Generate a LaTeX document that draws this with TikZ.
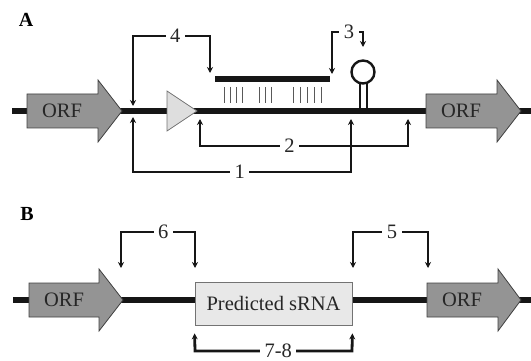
\documentclass[tikz,border=0pt]{standalone}
\usepackage{fontspec}
\setmainfont{Liberation Serif}
\usetikzlibrary{arrows.meta}
\definecolor{orfgray}{RGB}{148,148,148}
\definecolor{promgray}{RGB}{222,222,222}
\definecolor{boxgray}{RGB}{232,232,232}
\definecolor{dnablack}{RGB}{22,22,22}
\tikzset{
  dna/.style={line width=6pt, draw=dnablack},
  orf/.style={draw=black!75, line width=0.8pt, fill=orfgray},
  orflbl/.style={inner sep=0pt, font=\fontsize{20.5}{22}\selectfont, text=black!85},
  brk/.style={line width=2.8pt, draw=dnablack, {Stealth[length=6pt,width=6pt]}-{Stealth[length=6pt,width=6pt]}},
  num/.style={fill=white, inner xsep=4.5pt, inner ysep=1pt, font=\fontsize{20.5}{22}\selectfont, text=black!85},
  panel/.style={font=\fontsize{20}{22}\selectfont\bfseries},
  basepair/.style={line width=1pt, draw=black!65},
}
\begin{document}
\begin{tikzpicture}[x=1pt, y=-1pt]
\useasboundingbox (0,0) rectangle (531,361);

% panel A
\node[panel] (pA) at (26,20) {A};
\draw[dna] (12,111) -- (531,111);
\draw[orf] (27,94) -- (98,94) -- (98,80) -- (122,111) -- (98,142) -- (98,128) -- (27,128) -- cycle;
\node[orflbl] (orfA1) at (62,111) {ORF};
\draw[orf] (426,94) -- (497,94) -- (497,80) -- (521,111) -- (497,142) -- (497,128) -- (426,128) -- cycle;
\node[orflbl] (orfA2) at (461,111) {ORF};
\draw[draw=black!55, line width=0.8pt, fill=promgray] (167,91) -- (197,111) -- (167,131) -- cycle;

% sRNA and pairing
\draw[line width=6pt, draw=dnablack] (215,79) -- (330,79);
\foreach \x in {224,230,236,242,259,265,271,293,300,307,314,321}
  \draw[basepair] (\x,87) -- (\x,103);

% terminator
\draw[line width=2pt, draw=dnablack] (359.5,84) -- (359.5,108);
\draw[line width=2pt, draw=dnablack] (366.5,84) -- (366.5,108);
\draw[line width=2.4pt, draw=dnablack, fill=white] (363,72) circle (11.5);

% regions A
\coordinate (a4s) at (133,106);
\coordinate (a4e) at (210,73);
\draw[brk] (a4s) -- (133,36) -- node[num, pos=0.55] (n4) {4} (210,36) -- (a4e);
\coordinate (a3s) at (332,74);
\coordinate (a3e) at (363,47);
\draw[brk] (a3s) -- (332,32) -- node[num, pos=0.55] (n3) {3} (363,32) -- (a3e);
\coordinate (a2s) at (200,119);
\coordinate (a2e) at (408,119);
\draw[brk] (a2s) -- (200,146) -- node[num, pos=0.43] (n2) {2} (408,146) -- (a2e);
\coordinate (a1s) at (133,117);
\coordinate (a1e) at (351,119);
\draw[brk] (a1s) -- (133,172) -- node[num, pos=0.49] (n1) {1} (351,172) -- (a1e);

% panel B
\node[panel] (pB) at (27,214) {B};
\draw[dna] (13,300) -- (531,300);
\draw[orf] (29,283) -- (99,283) -- (99,269) -- (123,300) -- (99,331) -- (99,317) -- (29,317) -- cycle;
\node[orflbl] (orfB1) at (64,300) {ORF};
\draw[orf] (427,283) -- (498,283) -- (498,269) -- (521,300) -- (498,331) -- (498,317) -- (427,317) -- cycle;
\node[orflbl] (orfB2) at (462,300) {ORF};
\node[draw=black!55, line width=0.8pt, fill=boxgray, minimum width=157pt, minimum height=43pt,
  font=\fontsize{20.5}{22}\selectfont, text=black!85] (srna) at (273.5,303.5) {Predicted sRNA};

% regions B
\coordinate (b6s) at (121,268);
\coordinate (b6e) at (195,268);
\draw[brk] (b6s) -- (121,232) -- node[num, pos=0.57] (n6) {6} (195,232) -- (b6e);
\coordinate (b5s) at (353,268);
\coordinate (b5e) at (428,268);
\draw[brk] (b5s) -- (353,232) -- node[num, pos=0.52] (n5) {5} (428,232) -- (b5e);
\coordinate (b7s) at ([yshift=-8pt]srna.south west);
\coordinate (b7e) at ([yshift=-8pt]srna.south east);
\draw[brk] (b7s) -- (195,351) -- node[num, pos=0.53] (n78) {7-8} (352,351) -- (b7e);
\end{tikzpicture}
\end{document}
